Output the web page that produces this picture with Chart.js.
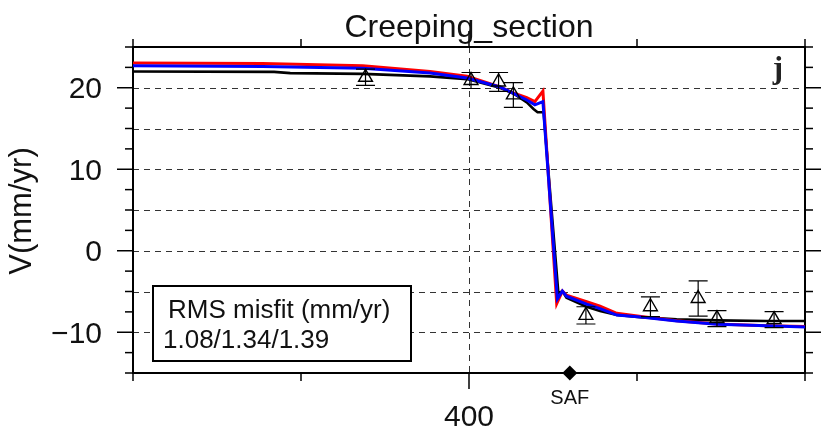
<!DOCTYPE html>
<html><head><meta charset="utf-8">
<script src="https://cdn.jsdelivr.net/npm/chart.js@4/dist/chart.umd.min.js"></script>
<style>html,body{margin:0;padding:0;background:#fff;}canvas{display:block;}</style>
</head><body>
<canvas id="c" width="830" height="429"></canvas>
<script>
// ---- text ----
const titleText = 'Creeping_section';
const yAxisTitle = 'V(mm/yr)';
const misfitTitle = 'RMS misfit (mm/yr)';
const misfitValues = '1.08/1.34/1.39';
const panelLetter = 'j';
const safLabel = 'SAF';

// ---- ticks ----
const xTickValues = [350, 375, 400, 425, 450];
const xLabelValues = [400];
const xGridValues = [400];
const yTickValues = [-15, -12.5, -10, -7.5, -5, -2.5, 0, 2.5, 5, 7.5, 10, 12.5, 15, 17.5, 20, 22.5, 25];
const yLabelValues = [20, 10, 0, -10];
const yGridValues = [20, 15, 10, 5, 0, -5, -10];

// ---- model curves ----
const redX  = [350, 369.3, 384.2, 394.2, 399.7, 404.6, 406.6, 408.6, 409.8, 411.0, 413.05, 413.9, 414.5, 417.5, 419.5, 422.0, 425.9, 430.9, 436.9, 444.3, 450];
const redV  = [23.05, 22.98, 22.7, 22.0, 21.4, 20.1, 19.35, 18.8, 18.3, 19.6, -6.5, -4.95, -5.45, -6.26, -6.8, -7.68, -8.09, -8.6, -9.0, -9.2, -9.3];
const blueX = [350, 369.3, 384.2, 394.2, 399.7, 404.6, 406.6, 408.6, 409.8, 411.0, 413.15, 413.9, 414.5, 417.5, 419.5, 422.0, 425.9, 430.9, 436.9, 444.3, 450];
const blueV = [22.7, 22.6, 22.4, 21.8, 21.2, 20.1, 19.3, 18.5, 17.9, 18.3, -5.9, -4.95, -5.57, -6.55, -7.1, -7.89, -8.17, -8.62, -9.02, -9.2, -9.35];
const blackX = [350, 371, 373.4, 384.2, 394.2, 399.7, 404.6, 406.6, 408.6, 409.6, 410.2, 411.1, 413.3, 413.9, 414.5, 417.5, 419.5, 422.0, 425.9, 430.9, 436.9, 444.3, 450];
const blackV = [21.99, 21.95, 21.8, 21.7, 21.4, 21.06, 20.0, 19.3, 18.2, 17.4, 17.0, 17.0, -5.2, -4.95, -5.77, -6.87, -7.4, -7.89, -8.17, -8.41, -8.54, -8.62, -8.62];

// ---- observations ----
const obsX   = [384.6, 400.3, 404.4, 406.6, 417.4, 427.0, 434.1, 436.9, 445.4];
const obsV   = [21.28, 20.89, 20.71, 19.12, -7.93, -6.87, -5.86, -8.33, -8.45];
const obsErr = [1.0, 0.98, 1.16, 1.52, 1.06, 1.22, 2.16, 0.98, 0.98];

// ---- fault ----
const safX = [415];
const safV = [-15];

const pts = (xs, vs) => xs.map((x, i) => ({x, y: vs[i]}));
const FONT = '"Liberation Sans", Arial, Helvetica, sans-serif';
const fmt = v => v < 0 ? '\u2212' + Math.abs(v) : String(v);

const gmtPlugin = {
  id: 'gmt',
  beforeDatasetsDraw(chart) {
    const {ctx, chartArea: a, scales: {x, y}} = chart;
    ctx.save();
    // dashed grid
    ctx.strokeStyle = '#333'; ctx.lineWidth = 1; ctx.setLineDash([6, 5]);
    yGridValues.forEach(v => {
      const py = Math.round(y.getPixelForValue(v)) + 0.5;
      ctx.beginPath(); ctx.moveTo(a.left, py); ctx.lineTo(a.right, py); ctx.stroke();
    });
    xGridValues.forEach(v => {
      const px = Math.round(x.getPixelForValue(v)) + 0.5;
      ctx.beginPath(); ctx.moveTo(px, a.top); ctx.lineTo(px, a.bottom); ctx.stroke();
    });
    ctx.setLineDash([]);
    // ticks
    ctx.strokeStyle = '#000'; ctx.lineWidth = 1.5;
    const seg = (x1, y1, x2, y2) => { ctx.beginPath(); ctx.moveTo(x1, y1); ctx.lineTo(x2, y2); ctx.stroke(); };
    yTickValues.forEach(v => {
      const py = y.getPixelForValue(v);
      const len = yLabelValues.includes(v) ? 16 : 8;
      seg(a.left - len, py, a.left, py);
      seg(a.right, py, a.right + len, py);
    });
    xTickValues.forEach(v => {
      const px = x.getPixelForValue(v);
      const len = xLabelValues.includes(v) ? 16 : 8;
      seg(px, a.top - len, px, a.top);
      seg(px, a.bottom, px, a.bottom + len);
    });
    // frame
    ctx.lineWidth = 2;
    ctx.strokeRect(a.left, a.top, a.right - a.left, a.bottom - a.top);
    ctx.restore();
  },
  afterDatasetsDraw(chart) {
    const {ctx, chartArea: a, scales: {x, y}} = chart;
    ctx.save();
    // error bars
    ctx.strokeStyle = '#000'; ctx.lineWidth = 1.2;
    obsX.forEach((xv, i) => {
      const px = x.getPixelForValue(xv);
      const top = y.getPixelForValue(obsV[i] + obsErr[i]);
      const bot = y.getPixelForValue(obsV[i] - obsErr[i]);
      ctx.beginPath();
      ctx.moveTo(px, top); ctx.lineTo(px, bot);
      ctx.moveTo(px - 9.5, top); ctx.lineTo(px + 9.5, top);
      ctx.moveTo(px - 9.5, bot); ctx.lineTo(px + 9.5, bot);
      ctx.stroke();
    });
    // misfit box
    ctx.fillStyle = '#fff';
    ctx.fillRect(153, 286, 258, 75);
    ctx.lineWidth = 2; ctx.strokeStyle = '#000';
    ctx.strokeRect(153, 286, 258, 75);
    ctx.fillStyle = '#111';
    ctx.font = '26px ' + FONT;
    ctx.textAlign = 'left'; ctx.textBaseline = 'alphabetic';
    ctx.fillText(misfitTitle, 168, 318);
    ctx.fillText(misfitValues, 163, 348);
    ctx.restore();
  },
  afterDraw(chart) {
    const {ctx, chartArea: a, scales: {x, y}} = chart;
    ctx.save();
    ctx.fillStyle = '#111';
    // title
    ctx.font = '32px ' + FONT;
    ctx.textAlign = 'center'; ctx.textBaseline = 'alphabetic';
    ctx.fillText(titleText, (a.left + a.right) / 2, 37);
    // y tick labels
    ctx.font = '30px ' + FONT;
    ctx.textAlign = 'right';
    yLabelValues.forEach(v => ctx.fillText(fmt(v), 102, y.getPixelForValue(v) + 10.7));
    // x tick labels
    ctx.textAlign = 'center';
    xLabelValues.forEach(v => ctx.fillText(fmt(v), x.getPixelForValue(v), 426));
    // y axis title
    ctx.save();
    ctx.translate(31, (a.top + a.bottom) / 2 + 1);
    ctx.rotate(-Math.PI / 2);
    ctx.font = '31px ' + FONT;
    ctx.textAlign = 'center';
    ctx.fillText(yAxisTitle, 0, 0);
    ctx.restore();
    // SAF label
    ctx.font = '20px ' + FONT;
    ctx.textAlign = 'center';
    ctx.fillText(safLabel, x.getPixelForValue(safX[0]), 404);
    // panel letter
    ctx.fillStyle = '#222';
    ctx.font = 'bold 31px "Liberation Serif", "Times New Roman", serif';
    ctx.textAlign = 'right';
    ctx.fillText(panelLetter, a.right - 22, 78);
    ctx.restore();
  }
};

new Chart(document.getElementById('c'), {
  type: 'scatter',
  data: {
    datasets: [
      { label: 'SAF', data: pts(safX, safV), pointStyle: 'rectRot', pointRadius: 7.5,
        backgroundColor: '#000', borderColor: '#000', borderWidth: 0, clip: false, order: 0 },
      { label: 'obs', data: pts(obsX, obsV), pointStyle: 'triangle', pointRadius: 8,
        backgroundColor: 'rgba(0,0,0,0)', borderColor: '#000', borderWidth: 1.4, order: 1 },
      { label: 'blue', data: pts(blueX, blueV), showLine: true, pointRadius: 0,
        borderColor: '#0000ff', borderWidth: 3, order: 2 },
      { label: 'red', data: pts(redX, redV), showLine: true, pointRadius: 0,
        borderColor: '#ff0000', borderWidth: 3, order: 3 },
      { label: 'black', data: pts(blackX, blackV), showLine: true, pointRadius: 0,
        borderColor: '#000000', borderWidth: 2.6, order: 4 }
    ]
  },
  options: {
    responsive: false,
    animation: false,
    devicePixelRatio: 1,
    events: [],
    layout: { padding: { left: 133, right: 25, top: 47, bottom: 56 } },
    scales: {
      x: { type: 'linear', min: 350, max: 450, display: false },
      y: { type: 'linear', min: -15, max: 25, display: false }
    },
    plugins: { legend: { display: false }, tooltip: { enabled: false }, title: { display: false } }
  },
  plugins: [gmtPlugin]
});
</script>
</body></html>
